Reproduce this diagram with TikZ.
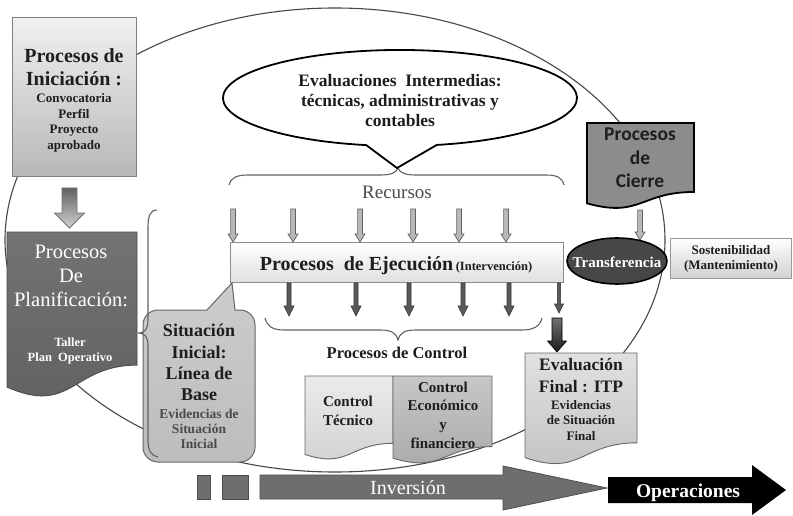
\documentclass[tikz,border=0pt]{standalone}
\usepackage{fontspec}
\setmainfont{Liberation Serif}
\newfontfamily\calibrifont{Carlito}
\usetikzlibrary{calc}

% document (wavy bottom) outline: x0, y0, width, height, style
\newcommand{\docshape}[5]{%
  \path[#5] (#1,#2) -- ({#1+#3},#2) -- ({#1+#3},{#2+0.802*#4})
    .. controls ({#1+0.5*#3},{#2+0.802*#4}) and ({#1+0.5*#3},{#2+1.1075*#4}) ..
    (#1,{#2+0.934*#4}) -- cycle;}
% downward block arrow: x, y top, y tip, shaft half width, head half width, head length, style
\newcommand{\blockdown}[7]{%
  \path[#7] ({#1-#4},#2) -- ({#1+#4},#2) -- ({#1+#4},{#3-#6}) -- ({#1+#5},{#3-#6})
    -- (#1,#3) -- ({#1-#5},{#3-#6}) -- ({#1-#4},{#3-#6}) -- cycle;}

\definecolor{ink}{HTML}{1E1E1E}
\definecolor{softink}{HTML}{4A4A4A}

\begin{document}
\begin{tikzpicture}[x=1pt,y=-1pt,
  every node/.style={inner sep=0pt, align=center, text=ink},
  loopline/.style={draw=black!72, line width=1.1pt},
  bracket/.style={draw=black!62, line width=1.1pt},
  lightbox/.style={draw=black!50, line width=1pt, top color=black!6, bottom color=black!28},
  execbox/.style={draw=black!45, line width=1pt, top color=white, bottom color=black!12},
  planbox/.style={draw=black!70, line width=0.9pt, top color=black!55, bottom color=black!62},
  closebox/.style={draw=black, line width=1.8pt, fill=black!45},
  finalbox/.style={draw=black!60, line width=0.9pt, top color=black!12, bottom color=black!24},
  techbox/.style={draw=black!60, line width=0.9pt, top color=black!8, bottom color=black!18},
  econbox/.style={draw=black!60, line width=0.9pt, top color=black!22, bottom color=black!34},
  basebox/.style={draw=black!60, line width=1pt, top color=black!20, bottom color=black!26},
  inarrow/.style={draw=black!62, line width=0.7pt, fill=black!28},
  outarrow/.style={draw=black!80, line width=0.6pt, fill=black!65},
  heavyarrow/.style={draw=black, line width=0.6pt, top color=black!55, bottom color=black!90},
  grayarrow/.style={draw=black!55, line width=0.8pt, top color=black!62, bottom color=black!18},
  flowarrow/.style={draw=black!70, line width=0.8pt, fill=black!57},
  big/.style={font=\fontsize{20}{24}\selectfont\bfseries},
  small/.style={font=\fontsize{13}{15.5}\selectfont\bfseries},
]
\useasboundingbox[fill=white] (0,0) rectangle (793,516);

% overall cycle of the project
\draw[loopline] (335,240) ellipse [x radius=330, y radius=232];

% ---------- initiation ----------
\node[lightbox, minimum width=124, minimum height=159] (inic) at (74,97.5) {};
\node[big, font=\fontsize{20}{23.5}\selectfont\bfseries] (inicT) at (74,67) {Procesos de\\Iniciación :};
\node[small] (inicS) at (74,123) {Convocatoria\\Perfil\\Proyecto\\aprobado};

\blockdown{69.5}{188}{228}{7.5}{15}{15}{grayarrow}

% ---------- planning ----------
\docshape{7}{232}{130}{166}{planbox}
\coordinate (plan) at (72,300);
\node[font=\fontsize{20.5}{24}\selectfont, text=white] (planT) at (71,276) {Procesos\\De\\Planificación:};
\node[font=\fontsize{12.5}{15}\selectfont\bfseries, text=white] (planS) at (70,351) {Taller\\Plan\ \ Operativo};

% ---------- execution ----------
\node[execbox, minimum width=333, minimum height=40] (ejec) at (396.5,262) {};
\node[anchor=base] (ejecT) at (396,270)
  {{\fontsize{20}{24}\selectfont\bfseries Procesos\ \ de Ejecución} {\fontsize{12.5}{15}\selectfont\bfseries(Intervención)}};

% resources flowing in
\foreach \x in {233,293,360,413,459,506}
  \blockdown{\x}{209}{242}{2.4}{5}{8}{inarrow};
\node[font=\fontsize{19}{22}\selectfont, text=softink] (recursos) at (397,192) {Recursos};
\draw[bracket] (229,185) .. controls (231,178) and (236,175) .. (248,175) -- (380,175)
  .. controls (391,175) and (396,173) .. (398,168) .. controls (400,173) and (405,175) .. (416,175)
  -- (546,175) .. controls (558,175) and (562,178) .. (564,185);

% intermediate evaluations
\path[draw=black, line width=1.8pt, fill=white] (397,168) -- (366.2,145.1)
  arc[start angle=101, end angle=438, x radius=177, y radius=48] -- cycle;
\node[font=\fontsize{17.5}{20}\selectfont\bfseries] (evalint) at (400,100.5)
  {Evaluaciones\ \ Intermedias:\\técnicas, administrativas y\\contables};

% control outputs
\foreach \x in {289,356,409,463,509}
  \blockdown{\x}{283}{316}{2}{5}{10}{outarrow};
\blockdown{559}{283}{313}{1.6}{4.5}{9}{outarrow}
\draw[bracket] (265,318) .. controls (267,326) and (272,330) .. (284,330) -- (380,330)
  .. controls (392,330) and (396,333) .. (398,340) .. controls (400,333) and (404,330) .. (416,330)
  -- (522,330) .. controls (534,330) and (540,326) .. (542,318);
\node[font=\fontsize{16.5}{20}\selectfont\bfseries] (control) at (397,353) {Procesos de Control};

\docshape{305}{376}{88}{84}{techbox}
\node[font=\fontsize{15}{19}\selectfont\bfseries] (ctec) at (348,410.5) {Control\\Técnico};
\docshape{393}{376}{99}{88}{econbox}
\node[font=\fontsize{15}{18.7}\selectfont\bfseries] (ceco) at (443,415) {Control\\Económico\\y\\financiero};

% ---------- baseline callout and its bracket ----------
\path[basebox] (143,325) .. controls (143,316.7) and (149.7,310) .. (158,310) -- (207,310)
  -- (232,283) -- (235,310) -- (240,310) .. controls (248.3,310) and (255,316.7) .. (255,325)
  -- (255,447) .. controls (255,455.3) and (248.3,462) .. (240,462) -- (158,462)
  .. controls (149.7,462) and (143,455.3) .. (143,447) -- cycle;
\draw[bracket] (157,210) .. controls (150,210) and (148,216) .. (148,228) -- (148,320)
  .. controls (148,329) and (145,333) .. (138,333) .. controls (145,333) and (148,337) .. (148,346)
  -- (148,440) .. controls (148,450) and (151,456) .. (158,457);
\node[font=\fontsize{18}{21.3}\selectfont\bfseries] (baseT) at (199,362.5) {Situación\\Inicial:\\Línea de\\Base};
\node[font=\fontsize{13.5}{15}\selectfont\bfseries, text=softink] (baseS) at (199,428.5) {Evidencias de\\Situación\\Inicial};

% ---------- final evaluation ----------
\blockdown{557}{318}{352}{5}{9.5}{11}{heavyarrow}
\docshape{525}{353}{112}{112}{finalbox}
\node[font=\fontsize{17.5}{22}\selectfont\bfseries] (finT) at (581,375.5) {Evaluación\\Final : ITP};
\node[small, font=\fontsize{13}{15.5}\selectfont\bfseries] (finS) at (581,420.5) {Evidencias\\de Situación\\Final};

% ---------- closing ----------
\docshape{587}{123}{107}{86}{closebox}
\node[font=\fontsize{19.5}{23.5}\calibrifont\selectfont\bfseries] (cierre) at (640,158) {Procesos\\de\\Cierre};
\blockdown{640}{210}{240}{2.4}{5}{8}{inarrow}
\draw[draw=black, line width=1.6pt, fill=black!72] (617,261) ellipse [x radius=50, y radius=23];
\node[font=\fontsize{15}{18}\selectfont\bfseries, text=white] (transf) at (617,262) {Transferencia};
\node[execbox, draw=black!40, bottom color=black!18, minimum width=121, minimum height=40] (sost) at (730.5,258) {};
\node[font=\fontsize{13}{15}\selectfont\bfseries] (sostT) at (731,259) {Sostenibilidad\\(Mantenimiento)};

% ---------- investment and operation ----------
\path[flowarrow] (197,475) rectangle (210,499);
\path[flowarrow] (222,475) rectangle (248,499);
\path[flowarrow] (260,475) -- (503,475) -- (503,466) -- (607,488) -- (503,510) -- (503,499) -- (260,499) -- cycle;
\node[anchor=base, font=\fontsize{20}{24}\selectfont, text=white] (inversion) at (408,494) {Inversión};
\path[fill=black] (608,477) -- (752,477) -- (752,465) -- (786,490) -- (752,515) -- (752,503) -- (608,503) -- cycle;
\node[anchor=base, font=\fontsize{19.5}{24}\selectfont\bfseries, text=white] (operac) at (688,497) {Operaciones};
\end{tikzpicture}
\end{document}
